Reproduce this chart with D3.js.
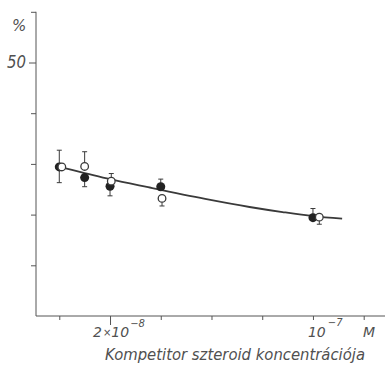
<!DOCTYPE html>
<html><head><meta charset="utf-8">
<script src="https://cdn.jsdelivr.net/npm/d3@7"></script>
<style>body{margin:0;background:#fff}svg{display:block}text{font-family:"DejaVu Sans",sans-serif;font-style:italic;fill:#505050}</style>
</head><body><svg id="c" width="388" height="370"></svg>
<script>
// x in units of 1e-8 M, y in %
const curveX = [0, 1, 2, 3.5, 5.75, 7.5, 8.8, 10, 11.15];
const curveY = [29.4, 28.2, 27.0, 25.4, 23.1, 21.5, 20.5, 19.7, 19.2];
const filledX = [0, 1, 2, 4, 10];
const filledY = [29.4, 27.3, 25.6, 25.5, 19.4];
const filledErrLo = [26.3, 25.5, 23.7, null, null];
const filledErrHi = [32.7, null, null, 27.0, 21.2];
const openX = [0.1, 1, 2.05, 4.05, 10.25];
const openY = [29.4, 29.5, 26.6, 23.2, 19.5];
const openErrLo = [null, null, null, 21.7, 18.1];
const openErrHi = [null, 32.4, 28.1, null, null];
const xTicks = [0, 2, 4, 6, 8, 10, 12];
const yTicks = [0, 10, 20, 30, 40, 50, 60];
const yTickLabels = {50: "50"};

const svg = d3.select("#c");
const x = d3.scaleLinear().domain([-0.918, 12.84]).range([36, 385]);
const y = d3.scaleLinear().domain([0, 60]).range([316, 11.8]);
const ink = "#3a3a3a";

// y axis
const yAx = svg.append("g").attr("transform", "translate(36,0)")
  .call(d3.axisLeft(y).tickValues(yTicks.filter(v => v > 0)).tickSize(5).tickFormat(""));
yAx.select(".domain").remove();
yAx.selectAll("line").attr("stroke", "#555").attr("stroke-width", 1);
yAx.selectAll(".tick").filter(d => d === 50).select("line").attr("x2", -7);
svg.append("line").attr("x1", 36).attr("x2", 36).attr("y1", y(60)).attr("y2", y(0)).attr("stroke", "#555");

// x axis
const xAx = svg.append("g").attr("transform", "translate(0,316)")
  .call(d3.axisBottom(x).tickValues(xTicks).tickSize(4).tickFormat(""));
xAx.select(".domain").remove();
xAx.selectAll("line").attr("stroke", "#555");
xAx.selectAll(".tick").filter(d => d === 2).select("line").attr("y2", 9);
svg.append("line").attr("x1", 36).attr("x2", 385).attr("y1", 316).attr("y2", 316).attr("stroke", "#555");

// labels
svg.append("text").attr("x", 12).attr("y", 31).attr("font-size", 15).text("%");
svg.append("text").attr("x", 26).attr("y", y(50) + 5).attr("text-anchor", "end").attr("font-size", 17)
  .attr("textLength", 19).attr("lengthAdjust", "spacingAndGlyphs").text(yTickLabels[50]);

const t1 = svg.append("text").attr("x", x(2) - 17).attr("y", 337).attr("font-size", 14);
t1.append("tspan").text("2");
t1.append("tspan").attr("font-size", 10).attr("dx", 1).attr("dy", -1).text("×");
t1.append("tspan").attr("dy", 1).text("10");
t1.append("tspan").attr("font-size", 10).attr("dx", 1).attr("dy", -10).text("−8");

const t2 = svg.append("text").attr("x", x(10) - 5).attr("y", 337).attr("font-size", 14);
t2.append("tspan").text("10");
t2.append("tspan").attr("font-size", 10).attr("dx", 2).attr("dy", -11).text("−7");
svg.append("text").attr("x", 363).attr("y", 337).attr("font-size", 14).text("M");

svg.append("text").attr("x", 105).attr("y", 360).attr("font-size", 16)
  .attr("textLength", 260).attr("lengthAdjust", "spacingAndGlyphs")
  .text("Kompetitor szteroid koncentrációja");

// curve
const pts = curveX.map((v, i) => [v, curveY[i]]);
svg.append("path").datum(pts)
  .attr("d", d3.line().x(d => x(d[0])).y(d => y(d[1])).curve(d3.curveMonotoneX))
  .attr("fill", "none").attr("stroke", ink).attr("stroke-width", 1.8);

// error bars
function bars(xs, ys, lo, hi) {
  xs.forEach((xv, i) => {
    [lo[i], hi[i]].forEach(e => {
      if (e == null) return;
      const px = x(xv);
      svg.append("line").attr("x1", px).attr("x2", px).attr("y1", y(ys[i])).attr("y2", y(e))
        .attr("stroke", ink).attr("stroke-width", 1);
      svg.append("line").attr("x1", px - 2.5).attr("x2", px + 2.5).attr("y1", y(e)).attr("y2", y(e))
        .attr("stroke", ink).attr("stroke-width", 1);
    });
  });
}
bars(filledX, filledY, filledErrLo, filledErrHi);
bars(openX, openY, openErrLo, openErrHi);

svg.selectAll("circle.f").data(filledX).enter().append("circle")
  .attr("cx", d => x(d)).attr("cy", (d, i) => y(filledY[i])).attr("r", 4.5)
  .attr("fill", "#222");
svg.selectAll("circle.o").data(openX).enter().append("circle")
  .attr("cx", d => x(d)).attr("cy", (d, i) => y(openY[i])).attr("r", 3.8)
  .attr("fill", "#fff").attr("stroke", ink).attr("stroke-width", 1.3);
</script></body></html>
